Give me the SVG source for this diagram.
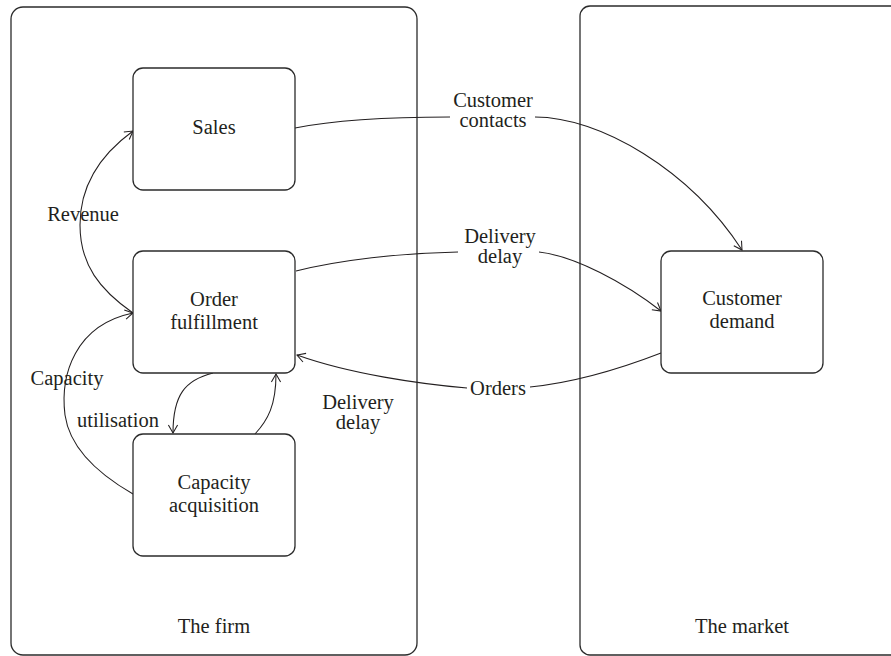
<svg xmlns="http://www.w3.org/2000/svg" width="891" height="656" viewBox="0 0 891 656">
<defs>
<style>
.container{fill:none;stroke:#2b2b2b;stroke-width:1.3}
.node rect{fill:#fff;stroke:#2b2b2b;stroke-width:1.3}
text{font-family:"Liberation Serif","Times New Roman",serif;font-size:20.5px;fill:#231f20;text-anchor:middle}
.edge{fill:none;stroke:#231f20;stroke-width:1.05}
.arrow{marker-end:url(#arr)}
</style>
<marker id="arr" viewBox="-10 -6 12 12" markerWidth="12" markerHeight="12" refX="0" refY="0" orient="auto" markerUnits="userSpaceOnUse">
<path d="M-8,-4.6 L0,0 L-8,4.6" fill="none" stroke="#231f20" stroke-width="1.05"/>
</marker>
</defs>
<rect width="891" height="656" fill="#fff"/>

<g id="firm">
<rect class="container" x="11" y="7" width="406" height="648" rx="12"/>
<text x="214" y="633">The firm</text>
</g>
<g id="market">
<rect class="container" x="580" y="6" width="340" height="649" rx="10"/>
<text x="742" y="633">The market</text>
</g>

<g id="connectors">
<path class="edge arrow" d="M295,128 C340,119 400,117 450,117 M535,117 C600,117 690,170 742,250"/>
<path class="edge arrow" d="M296,271 C340,260 400,253 458,252 M539,252 C575,256 625,283 661,311"/>
<path class="edge arrow" d="M661,353 C630,365 580,382 530,387 M467,388 C420,384 350,374 297,355"/>
<path class="edge arrow" d="M133,313 C100,290 80,265 80,225 C80,185 100,155 133,131"/>
<path class="edge arrow" d="M133,494 C100,475 70,450 65,415 C60,375 75,325 133,313"/>
<path class="edge arrow" d="M213,373 C185,380 173,395 173,433"/>
<path class="edge arrow" d="M255,434 C268,420 276,405 276,374"/>
<text x="493" y="107">Customer</text>
<text x="493" y="127">contacts</text>
<text x="500" y="243">Delivery</text>
<text x="500" y="263">delay</text>
<text x="498" y="395">Orders</text>
<text x="83" y="221">Revenue</text>
<text x="67" y="385">Capacity</text>
<text x="118" y="427">utilisation</text>
<text x="358" y="409">Delivery</text>
<text x="358" y="429">delay</text>
</g>

<g id="sales" class="node">
<rect x="133" y="68" width="162" height="122" rx="10"/>
<text x="214" y="134">Sales</text>
</g>
<g id="order-fulfillment" class="node">
<rect x="133" y="251" width="162" height="122" rx="10"/>
<text x="214" y="306">Order</text>
<text x="214" y="329">fulfillment</text>
</g>
<g id="capacity-acquisition" class="node">
<rect x="133" y="434" width="162" height="122" rx="10"/>
<text x="214" y="489">Capacity</text>
<text x="214" y="512">acquisition</text>
</g>
<g id="customer-demand" class="node">
<rect x="661" y="251" width="162" height="122" rx="10"/>
<text x="742" y="305">Customer</text>
<text x="742" y="328">demand</text>
</g>
</svg>
